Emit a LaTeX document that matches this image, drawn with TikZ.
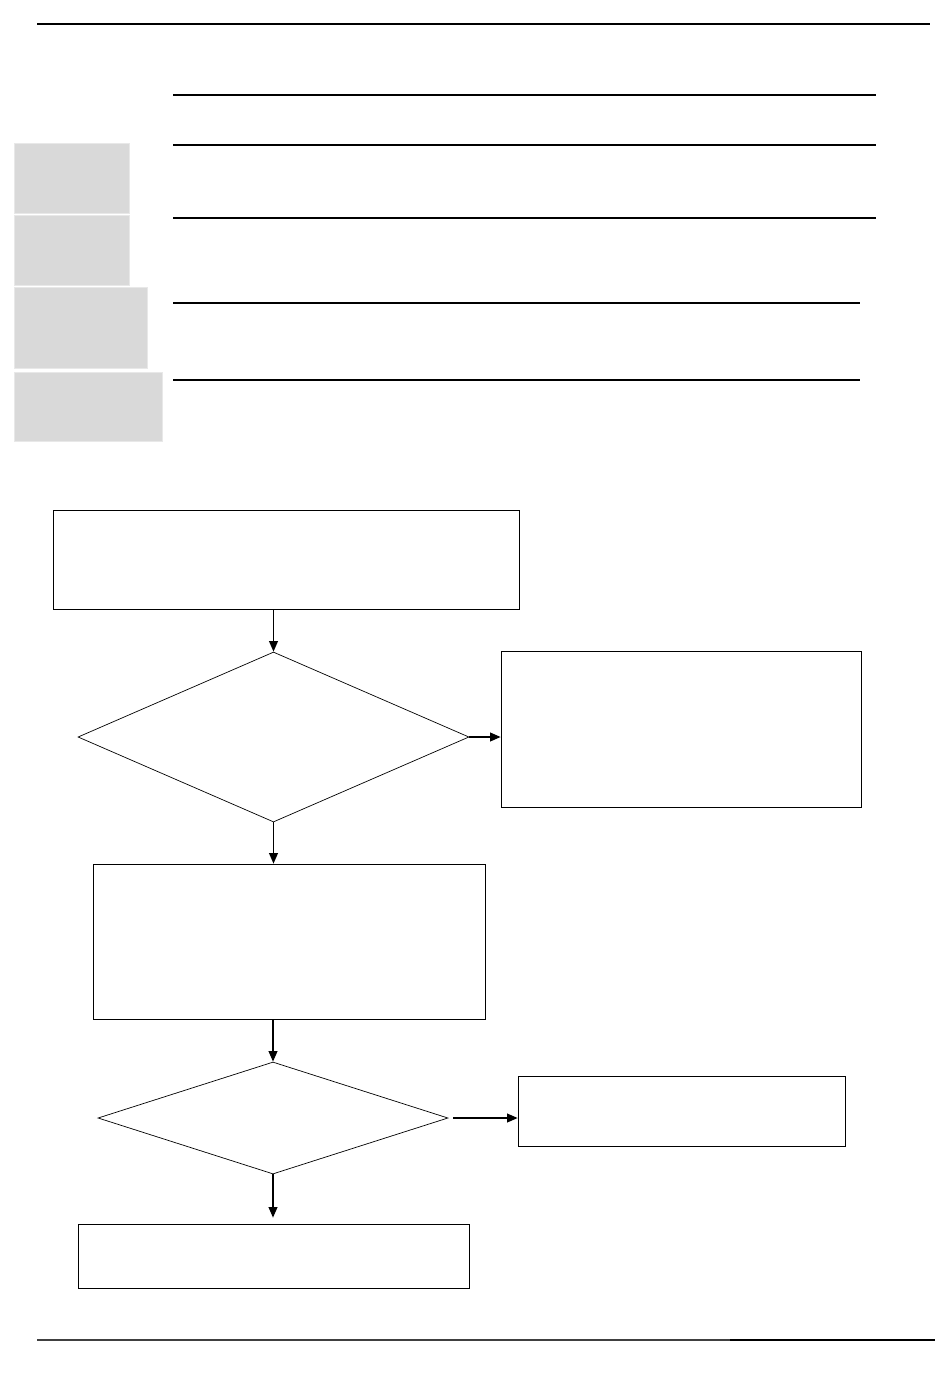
\documentclass[tikz,border=0pt]{standalone}
\usepackage{xcolor}
\definecolor{fcgray}{RGB}{217,217,217}
\definecolor{fcedge}{RGB}{232,232,232}
\usetikzlibrary{arrows.meta,positioning,shapes.geometric,calc}
\begin{document}
\begin{tikzpicture}[
  step box/.style={draw,thin,rectangle,inner sep=0pt},
  test/.style={draw,thin,diamond,inner sep=0pt},
  flow/.style={-{Triangle[length=6pt,width=5pt]},line width=0.8pt},
  rule/.style={line width=0.6pt},
  tab/.style={fill=fcgray,draw=fcedge,line width=0.5pt}]
  \useasboundingbox (0,0) rectangle (19,-27.94);
  % Header rules
  \draw[rule] (0.74,-0.48) -- (18.6,-0.48);
  \foreach \y/\x in {1.9/17.52,2.9/17.52,4.36/17.52,6.06/17.2,7.6/17.2}{
    \draw[rule] (3.46,-\y) -- (\x,-\y);
  }
  % Grey tabs
  \draw[tab] (0.28,-2.86) rectangle (2.58,-4.26);
  \draw[tab] (0.28,-4.3) rectangle (2.58,-5.7);
  \draw[tab] (0.28,-5.74) rectangle (2.94,-7.36);
  \draw[tab] (0.28,-7.44) rectangle (3.24,-8.82);
  % Flow nodes
  \node[step box,minimum width=9.32cm,minimum height=1.98cm] (start) at (5.72,-11.19) {};
  \node[test,minimum width=7.82cm,minimum height=3.4cm] (check1) at (5.47,-14.74) {};
  \node[step box,minimum width=7.2cm,minimum height=3.12cm] (fail1) at (13.62,-14.58) {};
  \node[step box,minimum width=7.84cm,minimum height=3.1cm] (work) at (5.78,-18.83) {};
  \node[test,minimum width=7.0cm,minimum height=2.24cm] (check2) at (5.46,-22.36) {};
  \node[step box,minimum width=6.54cm,minimum height=1.4cm] (fail2) at (13.63,-22.22) {};
  \node[step box,minimum width=7.82cm,minimum height=1.28cm] (done) at (5.47,-25.12) {};
  % Connections
  \draw[flow] (check1.north |- start.south) -- (check1.north);
  \draw[flow] (check1.east) -- (check1.east -| fail1.west);
  \draw[flow] (check1.south) -- (check1.south |- work.north);
  \draw[flow] (check2.north |- work.south) -- (check2.north);
  \draw[flow] ([xshift=0.1cm]check2.east) -- (check2.east -| fail2.west);
  \draw[flow] (check2.south) -- ([yshift=0.12cm]check2.south |- done.north);
  % Footer rule
  \draw[line width=0.6pt,black!75] (0.74,-26.8) -- (14.6,-26.8);
  \draw[line width=0.9pt] (14.6,-26.8) -- (18.7,-26.8);
\end{tikzpicture}
\end{document}
